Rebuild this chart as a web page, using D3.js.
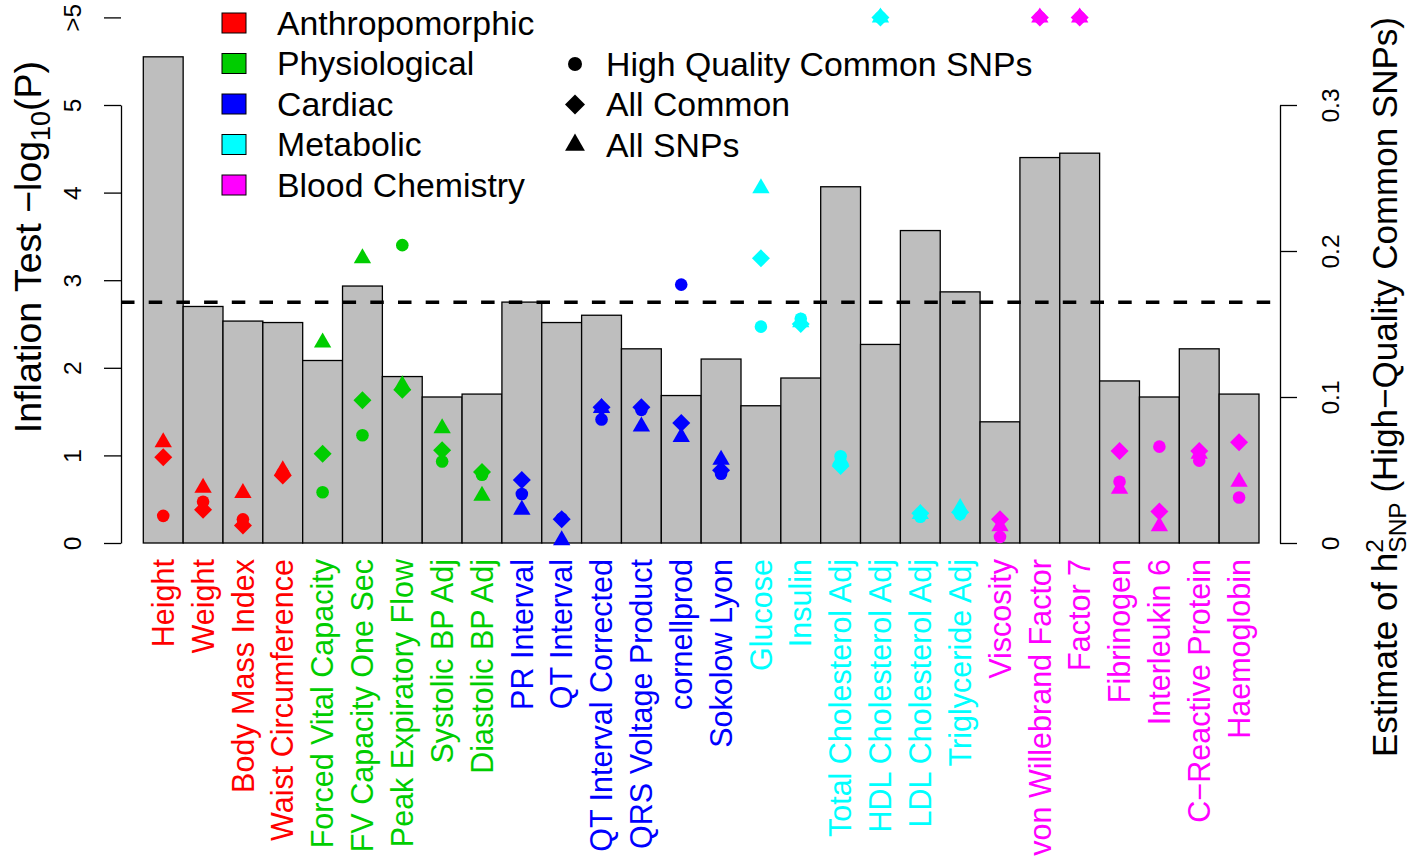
<!DOCTYPE html>
<html>
<head>
<meta charset="utf-8">
<script src="https://cdn.jsdelivr.net/npm/d3@7"></script>
<style>
  html, body { margin: 0; padding: 0; background: #fff; }
  svg { display: block; font-family: "Liberation Sans", Arial, Helvetica, sans-serif; }
</style>
</head>
<body>
<svg id="chart" width="1417" height="859"></svg>
<script>
// Traits, grouped by category
const traits = [
  "Height", "Weight", "Body Mass Index", "Waist Circumference",
  "Forced Vital Capacity", "FV Capacity One Sec", "Peak Expiratory Flow", "Systolic BP Adj", "Diastolic BP Adj",
  "PR Interval", "QT Interval", "QT Interval Corrected", "QRS Voltage Product", "cornellprod", "Sokolow Lyon",
  "Glucose", "Insulin", "Total Cholesterol Adj", "HDL Cholesterol Adj", "LDL Cholesterol Adj", "Triglyceride Adj",
  "Viscosity", "von Willebrand Factor", "Factor 7", "Fibrinogen", "Interleukin 6", "C\u2212Reactive Protein", "Haemoglobin"
];
const traitGroup = [
  0, 0, 0, 0,
  1, 1, 1, 1, 1,
  2, 2, 2, 2, 2, 2,
  3, 3, 3, 3, 3, 3,
  4, 4, 4, 4, 4, 4, 4
];
const groupNames = ["Anthropomorphic", "Physiological", "Cardiac", "Metabolic", "Blood Chemistry"];
const groupColors = ["#FF0000", "#00CD00", "#0000FF", "#00FFFF", "#FF00FF"];

// SNP heritability estimates (bars, right axis)
const h2snp = [
  0.333, 0.162, 0.152, 0.151,
  0.125, 0.176, 0.114, 0.100, 0.102,
  0.165, 0.151, 0.156, 0.133, 0.101, 0.126,
  0.094, 0.113, 0.244, 0.136, 0.214, 0.172,
  0.083, 0.264, 0.267, 0.111, 0.100, 0.133, 0.102
];

// Inflation test -log10(P); 6 marks the ">5" row
const pHighQualityCommon = [
  0.31, 0.47, 0.27, 0.80,
  0.58, 1.23, 3.40, 0.93, 0.78,
  0.56, 0.28, 1.41, 1.52, 2.95, 0.79,
  2.47, 2.56, 0.99, 6, 0.30, 0.33,
  0.07, 6, 6, 0.70, 1.10, 0.94, 0.52
];
const pAllCommon = [
  0.98, 0.38, 0.20, 0.77,
  1.02, 1.63, 1.75, 1.06, 0.81,
  0.72, 0.27, 1.55, 1.55, 1.37, 0.83,
  3.25, 2.50, 0.88, 6, 0.34, 0.35,
  0.27, 6, 6, 1.05, 0.36, 1.05, 1.15
];
const pAllSNPs = [
  1.15, 0.63, 0.57, 0.83,
  2.29, 3.25, 1.80, 1.31, 0.54,
  0.38, 0.03, 1.54, 1.33, 1.21, 0.95,
  4.05, 2.52, 0.95, 6, 0.33, 0.40,
  0.19, 6, 6, 0.62, 0.19, 1.02, 0.70
];
const seriesNames = ["High Quality Common SNPs", "All Common", "All SNPs"];

// Bonferroni threshold: -log10(0.05 / 28)
const threshold = -Math.log10(0.05 / traits.length);

const leftTicks = [0, 1, 2, 3, 4, 5, 6];
const leftTickLabels = ["0", "1", "2", "3", "4", "5", ">5"];
const rightTicks = [0, 0.1, 0.2, 0.3];

// ---- layout ----
const svg = d3.select("#chart");
const plotLeft = 121, plotRight = 1280;
const yBottom = 543, yTop5 = 105;

const x = d3.scaleBand().domain(traits).range([143.3, 1259]).padding(0);
const y = d3.scaleLinear().domain([0, 5]).range([yBottom, yTop5]);
const y2 = d3.scaleLinear().domain([0, 0.3]).range([yBottom, yTop5]);

// bars
svg.append("g").selectAll("rect")
  .data(traits)
  .join("rect")
  .attr("x", d => x(d))
  .attr("width", x.bandwidth())
  .attr("y", (d, i) => y2(h2snp[i]))
  .attr("height", (d, i) => yBottom - y2(h2snp[i]))
  .attr("fill", "#BEBEBE")
  .attr("stroke", "#000")
  .attr("stroke-width", 1.3);

// significance threshold
svg.append("line")
  .attr("x1", plotLeft).attr("x2", plotRight)
  .attr("y1", y(threshold)).attr("y2", y(threshold))
  .attr("stroke", "#000")
  .attr("stroke-width", 3.5)
  .attr("stroke-dasharray", "13.5 14.2");

// point symbols
const sym = {
  circle: d3.symbol().type(d3.symbolCircle).size(Math.PI * 6.3 * 6.3),
  diamond: d3.symbol().type(d3.symbolSquare).size(162),
  triangle: d3.symbol().type(d3.symbolTriangle).size(130)
};
const series = [
  { values: pHighQualityCommon, shape: "circle" },
  { values: pAllCommon, shape: "diamond" },
  { values: pAllSNPs, shape: "triangle" }
];
const pts = svg.append("g");
series.forEach(s => {
  pts.append("g").selectAll("path")
    .data(traits)
    .join("path")
    .attr("d", sym[s.shape]())
    .attr("transform", (d, i) => {
      const cx = x(d) + x.bandwidth() / 2;
      const cy = y(Math.min(s.values[i], 6));
      return `translate(${cx},${cy})` + (s.shape === "diamond" ? " rotate(45)" : "");
    })
    .attr("fill", (d, i) => groupColors[traitGroup[i]]);
});

// left axis
const axL = svg.append("g")
  .attr("transform", `translate(${plotLeft},0)`)
  .call(d3.axisLeft(y).tickValues(leftTicks)
    .tickFormat((d, i) => leftTickLabels[i])
    .tickSize(17).tickSizeOuter(0));
axL.select(".domain").attr("stroke-width", 1.3);
axL.selectAll(".tick line").attr("stroke-width", 1.3);
axL.selectAll(".tick text")
  .attr("x", null).attr("dy", "0.35em")
  .attr("transform", "translate(-49,0) rotate(-90)")
  .attr("text-anchor", "middle")
  .attr("font-size", 24.5)
  .attr("font-family", "Liberation Sans, Arial, sans-serif")
  .attr("fill", "#000");

// right axis
const axR = svg.append("g")
  .attr("transform", `translate(${plotRight},0)`)
  .call(d3.axisRight(y2).tickValues(rightTicks)
    .tickFormat(d => d === 0 ? "0" : d3.format(".1f")(d))
    .tickSize(17).tickSizeOuter(0));
axR.select(".domain").attr("stroke-width", 1.3);
axR.selectAll(".tick line").attr("stroke-width", 1.3);
axR.selectAll(".tick text")
  .attr("x", null).attr("dy", "0.35em")
  .attr("transform", "translate(50,0) rotate(-90)")
  .attr("text-anchor", "middle")
  .attr("font-size", 24.5)
  .attr("font-family", "Liberation Sans, Arial, sans-serif")
  .attr("fill", "#000");

// trait labels below bars
svg.append("g").selectAll("text")
  .data(traits)
  .join("text")
  .attr("transform", d => `translate(${x(d) + x.bandwidth() / 2},559) rotate(-90)`)
  .attr("dy", "0.35em")
  .attr("text-anchor", "end")
  .attr("font-size", 30.5)
  .attr("fill", (d, i) => groupColors[traitGroup[i]])
  .text(d => d);

// axis titles
const tl = svg.append("text")
  .attr("transform", "translate(28,247) rotate(-90)")
  .attr("dy", "0.35em")
  .attr("text-anchor", "middle")
  .attr("font-size", 37.5);
tl.append("tspan").text("Inflation Test \u2212log");
tl.append("tspan").attr("font-size", 27).attr("dy", 9).text("10");
tl.append("tspan").attr("dy", -9).text("(P)");

const tr = svg.append("text")
  .attr("transform", "translate(1385,387) rotate(-90)")
  .attr("dy", "0.35em")
  .attr("text-anchor", "middle")
  .attr("font-size", 35);
tr.append("tspan").text("Estimate of h");
tr.append("tspan").attr("font-size", 24.5).attr("dy", -14).text("2");
tr.append("tspan").attr("font-size", 24.5).attr("dx", -13.6).attr("dy", 23).text("SNP");
tr.append("tspan").attr("dy", -9).text(" (High\u2212Quality Common SNPs)");

// category legend
const legA = svg.append("g");
groupNames.forEach((name, i) => {
  const cy = 23 + i * 40.5;
  legA.append("rect")
    .attr("x", 222).attr("y", cy - 10).attr("width", 24).attr("height", 20)
    .attr("fill", groupColors[i]).attr("stroke", "#000").attr("stroke-width", 1);
  legA.append("text")
    .attr("x", 277).attr("y", cy).attr("dy", "0.35em")
    .attr("font-size", 33.8).text(name);
});

// series legend
const legB = svg.append("g");
const legSym = {
  circle: d3.symbol().type(d3.symbolCircle).size(Math.PI * 7 * 7),
  diamond: d3.symbol().type(d3.symbolSquare).size(200),
  triangle: d3.symbol().type(d3.symbolTriangle).size(170)
};
series.forEach((s, i) => {
  const cy = 64 + i * 40.5;
  legB.append("path")
    .attr("d", legSym[s.shape]())
    .attr("transform", `translate(575,${cy})` + (s.shape === "diamond" ? " rotate(45)" : ""))
    .attr("fill", "#000");
  legB.append("text")
    .attr("x", 606).attr("y", cy).attr("dy", "0.35em")
    .attr("font-size", 33.8).text(seriesNames[i]);
});
</script>
</body>
</html>
